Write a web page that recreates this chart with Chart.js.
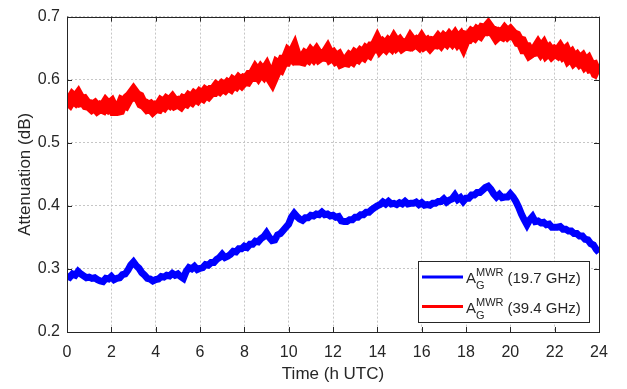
<!DOCTYPE html>
<html>
<head>
<meta charset="utf-8">
<script src="https://cdn.jsdelivr.net/npm/chart.js@4.4.1/dist/chart.umd.min.js"></script>
<style>
  html, body { margin: 0; padding: 0; background: #fff; }
  #wrap { width: 627px; height: 389px; position: relative; }
</style>
</head>
<body>
<div id="wrap"><canvas id="the-graph" width="627" height="389"></canvas></div>
<script>
// time of day (h UTC), every 7.5 min
var hours = [
  0, 0.125, 0.25, 0.375, 0.5, 0.625, 0.75, 0.875,
  1, 1.125, 1.25, 1.375, 1.5, 1.625, 1.75, 1.875,
  2, 2.125, 2.25, 2.375, 2.5, 2.625, 2.75, 2.875,
  3, 3.125, 3.25, 3.375, 3.5, 3.625, 3.75, 3.875,
  4, 4.125, 4.25, 4.375, 4.5, 4.625, 4.75, 4.875,
  5, 5.125, 5.25, 5.375, 5.5, 5.625, 5.75, 5.875,
  6, 6.125, 6.25, 6.375, 6.5, 6.625, 6.75, 6.875,
  7, 7.125, 7.25, 7.375, 7.5, 7.625, 7.75, 7.875,
  8, 8.125, 8.25, 8.375, 8.5, 8.625, 8.75, 8.875,
  9, 9.125, 9.25, 9.375, 9.5, 9.625, 9.75, 9.875,
  10, 10.125, 10.25, 10.375, 10.5, 10.625, 10.75, 10.875,
  11, 11.125, 11.25, 11.375, 11.5, 11.625, 11.75, 11.875,
  12, 12.125, 12.25, 12.375, 12.5, 12.625, 12.75, 12.875,
  13, 13.125, 13.25, 13.375, 13.5, 13.625, 13.75, 13.875,
  14, 14.125, 14.25, 14.375, 14.5, 14.625, 14.75, 14.875,
  15, 15.125, 15.25, 15.375, 15.5, 15.625, 15.75, 15.875,
  16, 16.125, 16.25, 16.375, 16.5, 16.625, 16.75, 16.875,
  17, 17.125, 17.25, 17.375, 17.5, 17.625, 17.75, 17.875,
  18, 18.125, 18.25, 18.375, 18.5, 18.625, 18.75, 18.875,
  19, 19.125, 19.25, 19.375, 19.5, 19.625, 19.75, 19.875,
  20, 20.125, 20.25, 20.375, 20.5, 20.625, 20.75, 20.875,
  21, 21.125, 21.25, 21.375, 21.5, 21.625, 21.75, 21.875,
  22, 22.125, 22.25, 22.375, 22.5, 22.625, 22.75, 22.875,
  23, 23.125, 23.25, 23.375, 23.5, 23.625, 23.75, 23.875,
  24
];

// A_G^MWR at 19.7 GHz (dB), one row per hour
var att197 = [
  0.289, 0.287, 0.292, 0.290, 0.296, 0.292, 0.289, 0.286,
  0.287, 0.285, 0.286, 0.283, 0.281, 0.280, 0.285, 0.284,
  0.288, 0.283, 0.285, 0.286, 0.291, 0.292, 0.298, 0.306,
  0.311, 0.305, 0.301, 0.294, 0.290, 0.285, 0.284, 0.281,
  0.283, 0.284, 0.288, 0.287, 0.290, 0.289, 0.293, 0.290,
  0.292, 0.288, 0.285, 0.296, 0.302, 0.300, 0.304, 0.299,
  0.301, 0.302, 0.307, 0.306, 0.310, 0.310, 0.315, 0.318,
  0.323, 0.318, 0.320, 0.323, 0.328, 0.327, 0.332, 0.332,
  0.336, 0.334, 0.339, 0.339, 0.344, 0.343, 0.348, 0.351,
  0.357, 0.350, 0.345, 0.346, 0.354, 0.356, 0.361, 0.366,
  0.371, 0.382, 0.388, 0.383, 0.379, 0.377, 0.381, 0.381,
  0.385, 0.384, 0.387, 0.386, 0.390, 0.386, 0.387, 0.384,
  0.385, 0.382, 0.383, 0.376, 0.375, 0.375, 0.378, 0.378,
  0.382, 0.382, 0.386, 0.386, 0.390, 0.390, 0.394, 0.397,
  0.400, 0.402, 0.406, 0.403, 0.407, 0.403, 0.404, 0.402,
  0.405, 0.403, 0.407, 0.403, 0.404, 0.404, 0.406, 0.402,
  0.405, 0.401, 0.402, 0.401, 0.404, 0.404, 0.407, 0.407,
  0.411, 0.406, 0.409, 0.411, 0.417, 0.410, 0.413, 0.407,
  0.412, 0.412, 0.417, 0.417, 0.421, 0.421, 0.425, 0.429,
  0.431, 0.426, 0.419, 0.414, 0.418, 0.413, 0.414, 0.414,
  0.419, 0.414, 0.407, 0.398, 0.387, 0.378, 0.370, 0.378,
  0.383, 0.375, 0.376, 0.373, 0.374, 0.370, 0.371, 0.366,
  0.366, 0.366, 0.367, 0.363, 0.363, 0.360, 0.360, 0.356,
  0.356, 0.352, 0.352, 0.347, 0.346, 0.340, 0.338, 0.331,
  0.326
];

// A_G^MWR at 39.4 GHz (dB), one row per hour
var att394 = [
  0.569, 0.565, 0.572, 0.568, 0.574, 0.566, 0.567, 0.561,
  0.560, 0.556, 0.559, 0.554, 0.557, 0.555, 0.562, 0.557,
  0.561, 0.552, 0.552, 0.553, 0.564, 0.562, 0.570, 0.574,
  0.580, 0.574, 0.572, 0.563, 0.561, 0.556, 0.558, 0.553,
  0.557, 0.556, 0.563, 0.560, 0.566, 0.563, 0.568, 0.562,
  0.564, 0.561, 0.567, 0.565, 0.571, 0.568, 0.574, 0.571,
  0.577, 0.574, 0.580, 0.577, 0.582, 0.582, 0.588, 0.585,
  0.590, 0.587, 0.592, 0.589, 0.596, 0.593, 0.599, 0.595,
  0.600, 0.599, 0.606, 0.606, 0.614, 0.608, 0.615, 0.610,
  0.617, 0.607, 0.600, 0.610, 0.623, 0.620, 0.630, 0.630,
  0.641, 0.637, 0.646, 0.632, 0.632, 0.631, 0.638, 0.635,
  0.642, 0.637, 0.643, 0.636, 0.639, 0.638, 0.645, 0.636,
  0.639, 0.633, 0.636, 0.628, 0.630, 0.629, 0.635, 0.632,
  0.639, 0.636, 0.642, 0.639, 0.646, 0.643, 0.651, 0.651,
  0.660, 0.651, 0.656, 0.652, 0.658, 0.654, 0.662, 0.655,
  0.659, 0.653, 0.656, 0.655, 0.663, 0.657, 0.660, 0.656,
  0.663, 0.656, 0.659, 0.654, 0.659, 0.658, 0.664, 0.659,
  0.665, 0.661, 0.667, 0.662, 0.668, 0.661, 0.666, 0.657,
  0.668, 0.667, 0.673, 0.670, 0.676, 0.673, 0.680, 0.679,
  0.684, 0.678, 0.676, 0.669, 0.673, 0.671, 0.677, 0.672,
  0.676, 0.671, 0.669, 0.661, 0.660, 0.650, 0.650, 0.642,
  0.645, 0.646, 0.653, 0.646, 0.652, 0.643, 0.647, 0.641,
  0.645, 0.642, 0.648, 0.641, 0.645, 0.635, 0.639, 0.631,
  0.635, 0.629, 0.633, 0.625, 0.629, 0.620, 0.621, 0.611,
  0.609
];

var seriesNames  = ['(19.7 GHz)', '(39.4 GHz)'];
var seriesColors = ['#0000ff', '#ff0000'];
var xTicks = [0, 2, 4, 6, 8, 10, 12, 14, 16, 18, 20, 22, 24];
var yTicks = [0.2, 0.3, 0.4, 0.5, 0.6, 0.7];

var FONT = '"Liberation Sans", Arial, Helvetica, sans-serif';
var INK = '#262626';

function points(vals) {
  return vals.map(function (v, i) { return { x: hours[i], y: v }; });
}

// box + inward ticks, matlab style
var boxPlugin = {
  id: 'box',
  afterDatasetsDraw: function (chart) {
    var ctx = chart.ctx, a = chart.chartArea,
        sx = chart.scales.x, sy = chart.scales.y, len = 5;
    ctx.save();
    ctx.strokeStyle = INK;
    ctx.lineWidth = 1;
    ctx.beginPath();
    xTicks.forEach(function (t) {
      var px = Math.round(sx.getPixelForValue(t)) + 0.5;
      ctx.moveTo(px, a.bottom); ctx.lineTo(px, a.bottom - len);
      ctx.moveTo(px, a.top);    ctx.lineTo(px, a.top + len);
    });
    yTicks.forEach(function (t) {
      var py = Math.round(sy.getPixelForValue(t)) + 0.5;
      ctx.moveTo(a.left, py);  ctx.lineTo(a.left + len, py);
      ctx.moveTo(a.right, py); ctx.lineTo(a.right - len, py);
    });
    ctx.stroke();
    ctx.strokeRect(Math.round(a.left) + 0.5, Math.round(a.top) + 0.5,
                   Math.round(a.right - a.left), Math.round(a.bottom - a.top));
    ctx.restore();
  }
};

// legend with sub/superscripts
var legendPlugin = {
  id: 'mwrLegend',
  afterDraw: function (chart) {
    var ctx = chart.ctx, a = chart.chartArea;
    var w = 171, h = 61, x0 = Math.round(a.right) - 10 - w, y0 = Math.round(a.bottom) - 10 - h;
    ctx.save();
    ctx.fillStyle = '#fff';
    ctx.fillRect(x0, y0, w, h);
    ctx.strokeStyle = INK;
    ctx.lineWidth = 1;
    ctx.strokeRect(x0 + 0.5, y0 + 0.5, w, h);
    chart.data.datasets.forEach(function (ds, i) {
      var cy = y0 + 16 + i * 29.5;
      ctx.strokeStyle = ds.borderColor;
      ctx.lineWidth = 3;
      ctx.beginPath();
      ctx.moveTo(x0 + 4, cy); ctx.lineTo(x0 + 45, cy);
      ctx.stroke();
      var tx = x0 + 48;
      ctx.fillStyle = INK;
      ctx.textBaseline = 'alphabetic';
      ctx.font = '15px ' + FONT;
      ctx.fillText('A', tx, cy + 6);
      tx += ctx.measureText('A').width;
      ctx.font = '11px ' + FONT;
      ctx.fillText('MWR', tx, cy - 1);
      ctx.fillText('G', tx, cy + 12);
      tx += ctx.measureText('MWR').width + 4;
      ctx.font = '15px ' + FONT;
      ctx.fillText(seriesNames[i], tx, cy + 6);
    });
    ctx.restore();
  }
};

var Chart197 = function () {
  this.ctx = document.getElementById('the-graph').getContext('2d');
  this.draw();
  return this.chart;
};

Chart197.prototype.draw = function () {
  var tickFont = { family: FONT, size: 16 };
  var titleFont = { family: FONT, size: 17 };
  var grid = { color: '#c6c6c6', lineWidth: 1, drawTicks: false };
  var sets = [att197, att394].map(function (vals, i) {
    return {
      label: seriesNames[i],
      data: points(vals),
      borderColor: seriesColors[i],
      backgroundColor: seriesColors[i],
      borderWidth: i === 0 ? 7 : 12,
      pointRadius: 0,
      tension: 0,
      clip: 0
    };
  });
  return (this.chart = new Chart(this.ctx, {
    type: 'line',
    data: { datasets: sets },
    options: {
      responsive: false,
      animation: false,
      layout: { padding: { top: 9, right: 28, left: 0, bottom: 0 } },
      plugins: { legend: { display: false }, tooltip: { enabled: false } },
      scales: {
        x: {
          type: 'linear', min: 0, max: 24,
          afterBuildTicks: function (s) { s.ticks = xTicks.map(function (v) { return { value: v }; }); },
          afterFit: function (s) { s.height = 57; },
          grid: grid,
          border: { display: false, dash: [2, 2] },
          ticks: { font: tickFont, color: INK, padding: 11, maxRotation: 0, autoSkip: false },
          title: { display: true, text: 'Time (h UTC)', font: titleFont, color: INK, padding: { top: 2 } }
        },
        y: {
          type: 'linear', min: 0.2, max: 0.7,
          afterBuildTicks: function (s) { s.ticks = yTicks.map(function (v) { return { value: v }; }); },
          afterFit: function (s) { s.width = 67; },
          grid: grid,
          border: { display: false, dash: [2, 2] },
          ticks: {
            font: tickFont, color: INK, padding: 7,
            callback: function (v) { return v.toFixed(1); }
          },
          title: { display: true, text: 'Attenuation (dB)', font: titleFont, color: INK, padding: { top: 15, bottom: 0 } }
        }
      }
    },
    plugins: [boxPlugin, legendPlugin]
  }));
};

var chart = new Chart197();
</script>
</body>
</html>
